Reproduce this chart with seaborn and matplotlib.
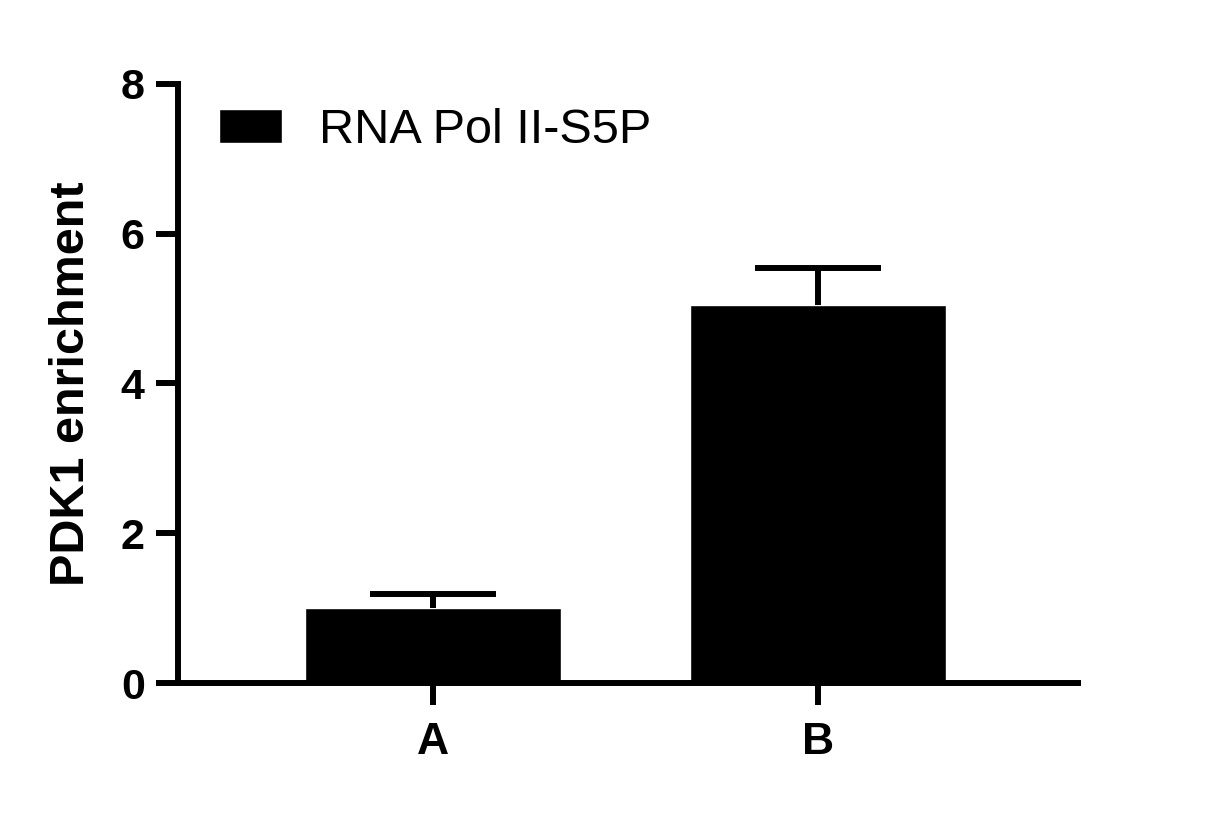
import pandas as pd
import matplotlib
matplotlib.use('Agg')
import matplotlib.pyplot as plt
import seaborn as sns

# values
groups = ['A', 'B']
means = [1.00, 5.05]
errors = [0.19, 0.49]
series = 'RNA Pol II-S5P'

df = pd.DataFrame({'group': groups, 'value': means, 'series': [series] * len(groups)})

sns.set_style('ticks', {'axes.edgecolor': 'black', 'text.color': 'black',
                        'axes.labelcolor': 'black', 'xtick.color': 'black',
                        'ytick.color': 'black'})
plt.rcParams['font.family'] = ['Liberation Sans', 'DejaVu Sans']

fig = plt.figure(figsize=(12.19, 8.21), dpi=100)
ax = fig.add_axes([0.146, 0.168, 0.738, 0.730])

sns.barplot(data=df, x='group', y='value', hue='series', palette=['black'],
            width=0.665, errorbar=None, saturation=1, ax=ax)

# upper-only error bars (GraphPad style)
eb = ax.errorbar(range(len(groups)), means, yerr=[[0] * len(errors), errors],
                 fmt='none', ecolor='black', elinewidth=4.3, capsize=45.7,
                 capthick=4.3, zorder=1)
eb.lines[1][0].set_visible(False)

ax.set_xlim(-0.662, 1.675)
ax.set_ylim(0, 8)
ax.set_yticks([0, 2, 4, 6, 8])
sns.despine(ax=ax)
for side in ['left', 'bottom']:
    ax.spines[side].set_linewidth(4.3)
ax.tick_params(axis='both', width=4.3, length=16, color='black')
ax.tick_params(axis='y', pad=8, labelsize=31)
ax.tick_params(axis='x', pad=12, labelsize=32)
for lab in ax.get_xticklabels() + ax.get_yticklabels():
    lab.set_fontweight('bold')

ax.set_xlabel('')
ax.set_ylabel('PDK1 enrichment', fontsize=35, fontweight='bold', labelpad=19)

ax.legend(loc='center left', frameon=False, fontsize=35, handlelength=1.3,
          handleheight=0.68, handletextpad=0.75, borderpad=0, borderaxespad=0,
          bbox_to_anchor=(0.0456, 0.922))

fig.savefig('out.png', dpi=100)
